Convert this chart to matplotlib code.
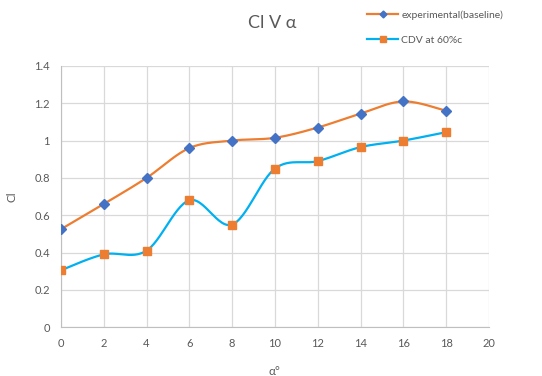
import numpy as np
import matplotlib.pyplot as plt

# data
alpha = [0, 2, 4, 6, 8, 10, 12, 14, 16, 18]
cl_baseline = [0.525, 0.66, 0.80, 0.96, 1.0, 1.015, 1.07, 1.145, 1.21, 1.16]
cl_cdv = [0.305, 0.39, 0.41, 0.68, 0.55, 0.85, 0.89, 0.965, 1.0, 1.045]

xticks = list(range(0, 21, 2))
yticks = [0, 0.2, 0.4, 0.6, 0.8, 1, 1.2, 1.4]


def smooth(x, y, n=30):
    """Excel-like smoothed line (Catmull-Rom bezier)"""
    x = np.asarray(x, float)
    y = np.asarray(y, float)
    px = np.concatenate([[x[0]], x, [x[-1]]])
    py = np.concatenate([[y[0]], y, [y[-1]]])
    xs, ys = [], []
    t = np.linspace(0, 1, n)
    for i in range(1, len(px) - 2):
        p0 = np.array([px[i], py[i]])
        p3 = np.array([px[i + 1], py[i + 1]])
        c1 = p0 + (p3 - np.array([px[i - 1], py[i - 1]])) / 6
        c2 = p3 - (np.array([px[i + 2], py[i + 2]]) - p0) / 6
        b = ((1 - t) ** 3)[:, None] * p0 + (3 * (1 - t) ** 2 * t)[:, None] * c1 \
            + (3 * (1 - t) * t ** 2)[:, None] * c2 + (t ** 3)[:, None] * p3
        xs.extend(b[:, 0])
        ys.extend(b[:, 1])
    return xs, ys


plt.rcParams["font.family"] = ["Lato", "DejaVu Sans"]
txt = "#595959"

fig = plt.figure(figsize=(5.42, 3.76), dpi=100)
ax = fig.add_axes([0.1125, 0.130, 0.7895, 0.6945])

sx, sy = smooth(alpha, cl_baseline)
ax.plot(sx, sy, color="#ED7D31", lw=1.6, zorder=3)
ax.plot(alpha, cl_baseline, ls="none", marker="D", ms=5.5, color="#4472C4", zorder=4)
sx, sy = smooth(alpha, cl_cdv)
ax.plot(sx, sy, color="#00B0F0", lw=1.6, zorder=3)
ax.plot(alpha, cl_cdv, ls="none", marker="s", ms=6, color="#ED7D31", zorder=4)

# legend proxies
ax.plot([], [], color="#ED7D31", lw=1.6, marker="D", ms=3.5, mfc="#4472C4", mec="#4472C4",
        label="experimental(baseline)")
ax.plot([], [], color="#00B0F0", lw=1.6, marker="s", ms=5, mfc="#ED7D31", mec="#ED7D31",
        label="CDV at 60%c")
leg = fig.legend(loc="upper left", bbox_to_anchor=(0.66, 0.998), frameon=False, fontsize=7.5,
                 handlelength=3.0, labelspacing=1.55, handletextpad=0.3)
for t in leg.get_texts():
    t.set_color(txt)

ax.set_xlim(0, 20)
ax.set_ylim(0, 1.4)
ax.set_xticks(xticks)
ax.set_yticks(yticks)
ax.set_yticklabels(["0", "0.2", "0.4", "0.6", "0.8", "1", "1.2", "1.4"])
ax.grid(True, color="#d9d9d9", lw=0.9)
ax.set_axisbelow(True)
for s in ["top", "right"]:
    ax.spines[s].set_visible(False)
for s in ["left", "bottom"]:
    ax.spines[s].set_color("#bfbfbf")
ax.tick_params(length=0, labelsize=8, colors=txt, pad=8)

ax.set_xlabel("α°", fontsize=8.5, color=txt, labelpad=12)
ax.set_ylabel("Cl", fontsize=8.5, color=txt, labelpad=12)
fig.text(0.502, 0.94, "Cl V α", ha="center", va="center", fontsize=13, color=txt)

fig.savefig("out.png", dpi=100)
